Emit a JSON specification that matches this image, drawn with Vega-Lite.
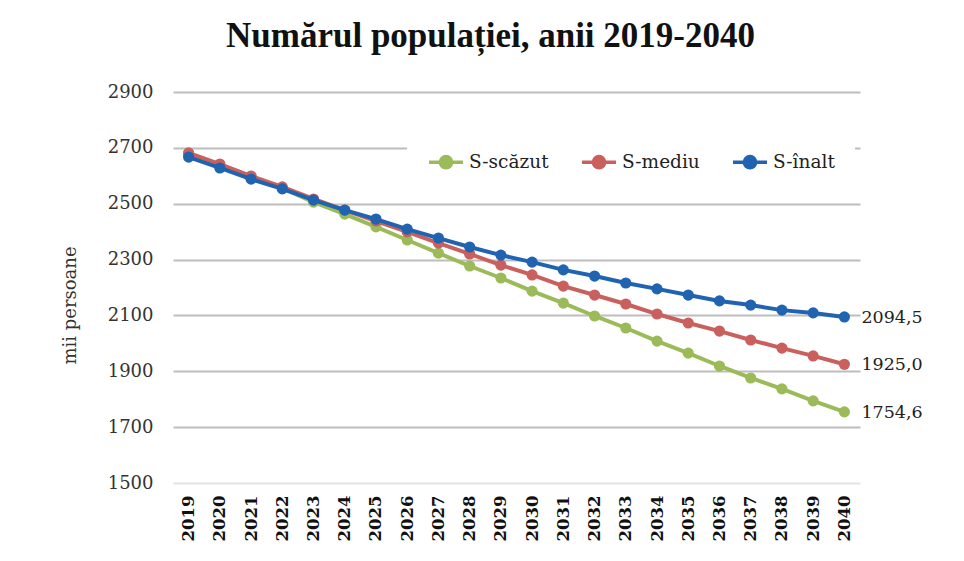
{
  "$schema": "https://vega.github.io/schema/vega-lite/v6.json",
  "autosize": {"type": "none"},
  "width": 687,
  "height": 391,
  "padding": {"left": 173, "top": 92, "right": 104, "bottom": 78},
  "background": "white",
  "config": {"view": {"stroke": null}},
  "title": {
    "text": "Numărul populației, anii 2019-2040",
    "font": "Liberation Serif",
    "fontSize": 35,
    "fontWeight": "bold",
    "color": "#111111",
    "anchor": "middle",
    "offset": 29,
    "dx": -26
  },
  "datasets": {
    "pop": [
      {"year": 2019, "series": "S-scăzut", "value": 2680},
      {"year": 2020, "series": "S-scăzut", "value": 2640},
      {"year": 2021, "series": "S-scăzut", "value": 2598},
      {"year": 2022, "series": "S-scăzut", "value": 2556},
      {"year": 2023, "series": "S-scăzut", "value": 2506},
      {"year": 2024, "series": "S-scăzut", "value": 2463},
      {"year": 2025, "series": "S-scăzut", "value": 2417},
      {"year": 2026, "series": "S-scăzut", "value": 2370},
      {"year": 2027, "series": "S-scăzut", "value": 2323},
      {"year": 2028, "series": "S-scăzut", "value": 2277},
      {"year": 2029, "series": "S-scăzut", "value": 2234},
      {"year": 2030, "series": "S-scăzut", "value": 2187},
      {"year": 2031, "series": "S-scăzut", "value": 2144},
      {"year": 2032, "series": "S-scăzut", "value": 2098},
      {"year": 2033, "series": "S-scăzut", "value": 2055},
      {"year": 2034, "series": "S-scăzut", "value": 2008},
      {"year": 2035, "series": "S-scăzut", "value": 1965},
      {"year": 2036, "series": "S-scăzut", "value": 1919},
      {"year": 2037, "series": "S-scăzut", "value": 1876},
      {"year": 2038, "series": "S-scăzut", "value": 1837},
      {"year": 2039, "series": "S-scăzut", "value": 1794},
      {"year": 2040, "series": "S-scăzut", "value": 1754.6},
      {"year": 2019, "series": "S-mediu", "value": 2682},
      {"year": 2020, "series": "S-mediu", "value": 2642},
      {"year": 2021, "series": "S-mediu", "value": 2599},
      {"year": 2022, "series": "S-mediu", "value": 2560},
      {"year": 2023, "series": "S-mediu", "value": 2517},
      {"year": 2024, "series": "S-mediu", "value": 2477},
      {"year": 2025, "series": "S-mediu", "value": 2438},
      {"year": 2026, "series": "S-mediu", "value": 2399},
      {"year": 2027, "series": "S-mediu", "value": 2359},
      {"year": 2028, "series": "S-mediu", "value": 2320},
      {"year": 2029, "series": "S-mediu", "value": 2280},
      {"year": 2030, "series": "S-mediu", "value": 2245},
      {"year": 2031, "series": "S-mediu", "value": 2205},
      {"year": 2032, "series": "S-mediu", "value": 2173},
      {"year": 2033, "series": "S-mediu", "value": 2141},
      {"year": 2034, "series": "S-mediu", "value": 2105},
      {"year": 2035, "series": "S-mediu", "value": 2073},
      {"year": 2036, "series": "S-mediu", "value": 2044},
      {"year": 2037, "series": "S-mediu", "value": 2012},
      {"year": 2038, "series": "S-mediu", "value": 1983},
      {"year": 2039, "series": "S-mediu", "value": 1955},
      {"year": 2040, "series": "S-mediu", "value": 1925.0},
      {"year": 2019, "series": "S-înalt", "value": 2667},
      {"year": 2020, "series": "S-înalt", "value": 2628},
      {"year": 2021, "series": "S-înalt", "value": 2588},
      {"year": 2022, "series": "S-înalt", "value": 2553},
      {"year": 2023, "series": "S-înalt", "value": 2513},
      {"year": 2024, "series": "S-înalt", "value": 2477},
      {"year": 2025, "series": "S-înalt", "value": 2445},
      {"year": 2026, "series": "S-înalt", "value": 2409},
      {"year": 2027, "series": "S-înalt", "value": 2377},
      {"year": 2028, "series": "S-înalt", "value": 2345},
      {"year": 2029, "series": "S-înalt", "value": 2316},
      {"year": 2030, "series": "S-înalt", "value": 2291},
      {"year": 2031, "series": "S-înalt", "value": 2263},
      {"year": 2032, "series": "S-înalt", "value": 2241},
      {"year": 2033, "series": "S-înalt", "value": 2216},
      {"year": 2034, "series": "S-înalt", "value": 2195},
      {"year": 2035, "series": "S-înalt", "value": 2173},
      {"year": 2036, "series": "S-înalt", "value": 2152},
      {"year": 2037, "series": "S-înalt", "value": 2137},
      {"year": 2038, "series": "S-înalt", "value": 2119},
      {"year": 2039, "series": "S-înalt", "value": 2109},
      {"year": 2040, "series": "S-înalt", "value": 2094.5}
    ],
    "ends": [
      {"year": 2040, "value": 2094.5, "label": "2094,5"},
      {"year": 2040, "value": 1925.0, "label": "1925,0"},
      {"year": 2040, "value": 1754.6, "label": "1754,6"}
    ]
  },
  "encoding": {
    "x": {
      "field": "year",
      "type": "ordinal",
      "scale": {"type": "point", "padding": 0.5},
      "axis": {
        "title": null,
        "labelAngle": 270,
        "labelFont": "DejaVu Serif",
        "labelFontSize": 16.5,
        "labelFontWeight": "bold",
        "labelColor": "#111111",
        "labelPadding": 12,
        "domain": false,
        "ticks": false,
        "grid": false
      }
    },
    "y": {
      "field": "value",
      "type": "quantitative",
      "scale": {"domain": [1500, 2900], "nice": false, "zero": false},
      "axis": {
        "title": "mii persoane",
        "titleFont": "DejaVu Serif",
        "titleFontSize": 18,
        "titleFontWeight": "normal",
        "titleColor": "#333333",
        "titleAngle": 270,
        "titleX": -103,
        "titleY": 213,
        "titleAlign": "center",
        "titleBaseline": "middle",
        "values": [1500, 1700, 1900, 2100, 2300, 2500, 2700, 2900],
        "format": "d",
        "labelFont": "DejaVu Serif",
        "labelFontSize": 18,
        "labelColor": "#333333",
        "labelPadding": 20,
        "domain": false,
        "ticks": false,
        "grid": true,
        "gridColor": {"condition": {"test": "datum.value === 1500", "value": "#e3e3e3"}, "value": "#bdbdbd"},
        "gridWidth": 2
      }
    }
  },
  "layer": [
    {
      "data": {"name": "pop"},
      "transform": [{"filter": "datum.series === 'S-scăzut'"}],
      "mark": {"type": "line", "strokeWidth": 4, "point": {"filled": true, "size": 125}},
      "encoding": {
        "color": {"field": "series", "type": "nominal"}
      }
    },
    {
      "data": {"name": "pop"},
      "transform": [{"filter": "datum.series === 'S-mediu'"}],
      "mark": {"type": "line", "strokeWidth": 4, "point": {"filled": true, "size": 125}},
      "encoding": {
        "color": {"field": "series", "type": "nominal"}
      }
    },
    {
      "data": {"name": "pop"},
      "transform": [{"filter": "datum.series === 'S-înalt'"}],
      "mark": {"type": "line", "strokeWidth": 4, "point": {"filled": true, "size": 125}},
      "encoding": {
        "color": {
          "field": "series",
          "type": "nominal",
          "scale": {
            "domain": ["S-scăzut", "S-mediu", "S-înalt"],
            "range": ["#9bbb59", "#c9605d", "#2063b0"]
          },
          "legend": {
            "title": null,
            "orient": "none",
            "direction": "horizontal",
            "legendX": 234,
            "legendY": 31,
            "padding": 20,
            "fillColor": "white",
            "symbolType": "M-1,0L1,0M0.33,0A0.33,0.33 0 1,1 -0.33,0A0.33,0.33 0 1,1 0.33,0Z",
            "symbolSize": 1156,
            "symbolStrokeWidth": 3.5,
            "labelFont": "DejaVu Serif",
            "labelFontSize": 18.5,
            "labelColor": "#222222",
            "labelOffset": 4,
            "columnPadding": 26,
            "encode": {
              "symbols": {
                "update": {
                  "fill": {"scale": "color", "field": "value"},
                  "stroke": {"scale": "color", "field": "value"},
                  "opacity": {"value": 1}
                }
              }
            }
          }
        }
      }
    },
    {
      "data": {"name": "ends"},
      "mark": {"type": "text", "align": "left", "baseline": "middle", "dx": 17, "dy": 1, "font": "DejaVu Serif", "fontSize": 17.5, "color": "#222222"},
      "encoding": {
        "text": {"field": "label"}
      }
    }
  ]
}
